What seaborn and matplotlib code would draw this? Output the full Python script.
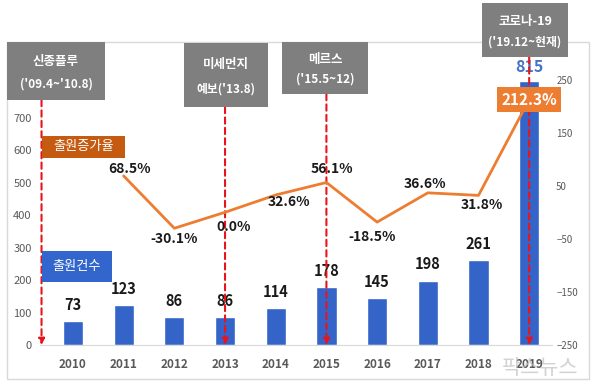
import numpy as np
import matplotlib
matplotlib.use("Agg")
import matplotlib.pyplot as plt
from matplotlib.patches import Rectangle
import seaborn as sns

# ── 데이터 ───────────────────────────────────────────────────────────────────
years = ["2010", "2011", "2012", "2013", "2014", "2015", "2016", "2017", "2018", "2019"]
counts = [73, 123, 86, 86, 114, 178, 145, 198, 261, 815]
growth_years = years[1:]
growth = [68.5, -30.1, 0.0, 32.6, 56.1, -18.5, 36.6, 31.8, 212.3]

event_names = ["신종플루", "미세먼지", "메르스", "코로나-19"]
event_periods = ["('09.4~'10.8)", "예보('13.8)", "('15.5~12)", "('19.12~현재)"]
event_pos = [-0.62, 3, 5, 9]

# ── 스타일 ───────────────────────────────────────────────────────────────────
sns.set_style("white")
plt.rcParams["font.family"] = ["Noto Sans CJK KR", "DejaVu Sans"]
BLUE = "#3464C8"
ORANGE = "#ED7D31"
BROWN = "#C55A11"
GRAY_BOX = "#7F7F7F"
TICK = "#595959"

W, H = 600, 391
fig = plt.figure(figsize=(6, 3.91), dpi=100)
ax = fig.add_axes([40 / W, 46 / H, 512 / W, 292 / H])

def fx(x): return x / W
def fy(y): return 1 - y / H

# 외곽 테두리
fig.add_artist(Rectangle((fx(7), fy(379)), fx(582), 337 / H, transform=fig.transFigure,
                         facecolor="none", edgecolor="#D9D9D9", lw=1, zorder=0))

# ── 막대: 출원건수 ───────────────────────────────────────────────────────────
sns.barplot(x=years, y=counts, color=BLUE, saturation=1, width=0.4, ax=ax, zorder=2)
ax.set_ylim(0, 900)
ax.set_xlim(-0.65, 9.45)
ax.set_yticks(range(0, 800, 100))
ax.set_xlabel("")
ax.set_ylabel("")
for s in ["top", "right", "left"]:
    ax.spines[s].set_visible(False)
ax.spines["bottom"].set_color("#D9D9D9")
ax.tick_params(axis="y", length=0, pad=6, labelsize=8, labelcolor=TICK)
ax.tick_params(axis="x", length=0, pad=9, labelsize=8.5, labelcolor=TICK)
for t in ax.get_xticklabels():
    t.set_fontweight("bold")

for i, v in enumerate(counts[:-1]):
    ax.annotate(f"{v}", (i, v), xytext=(0, 6), textcoords="offset points",
                ha="center", va="bottom", fontsize=10.5, fontweight="bold", color="#1a1a1a")
ax.annotate(f"{counts[-1]}", (9, counts[-1]), xytext=(0, 4), textcoords="offset points",
            ha="center", va="bottom", fontsize=11.5, fontweight="bold", color="#4472C4")

# ── 꺾은선: 출원증가율 ───────────────────────────────────────────────────────
ax2 = ax.twinx()
xpos = np.arange(1, len(years))
sns.lineplot(x=xpos, y=growth, color=ORANGE, lw=2, ax=ax2, zorder=3)
ax2.set_ylim(-250, 300)
ax2.set_yticks(range(-250, 251, 100))
for s in ["top", "right", "left", "bottom"]:
    ax2.spines[s].set_visible(False)
ax2.tick_params(axis="y", length=0, pad=3, labelsize=7, labelcolor=TICK)
ax2.set_ylabel("")

offsets = [(6, 7), (0, -11), (9, -15), (13, -7), (5, 13), (-5, -15), (-3, 9), (3, -10)]
for x, v, (dx, dy) in zip(xpos[:-1], growth[:-1], offsets):
    ax2.annotate(f"{v:.1f}%", (x, v), xytext=(dx * 0.72, dy * 0.72), textcoords="offset points",
                 ha="center", va="center", fontsize=10, fontweight="bold", color="#1a1a1a")
ax2.text(xpos[-1], growth[-1], f"{growth[-1]:.1f}%", ha="center", va="center",
         fontsize=11, fontweight="bold", color="white", zorder=6,
         bbox=dict(boxstyle="square,pad=0.28", facecolor=ORANGE, edgecolor="none"))

# ── 범례 상자 ────────────────────────────────────────────────────────────────
def label_box(x0, y0, x1, y1, color, text, size=9.5):
    fig.add_artist(Rectangle((fx(x0), fy(y1)), (x1 - x0) / W, (y1 - y0) / H,
                             transform=fig.transFigure, facecolor=color, edgecolor="none", zorder=5))
    fig.text(fx((x0 + x1) / 2), fy((y0 + y1) / 2), text, ha="center", va="center",
             color="white", fontsize=size, zorder=6)

label_box(42, 136, 125, 158, BROWN, "출원증가율")
label_box(42, 251, 112, 282, "#3366CC", "출원건수")

# ── 이벤트 상자 + 화살표 ─────────────────────────────────────────────────────
boxes = [(7, 42, 105, 100), (184, 43, 268, 107), (282, 42, 368, 94), (482, 3, 568, 57)]
for name, period, pos, (x0, y0, x1, y1) in zip(event_names, event_periods, event_pos, boxes):
    fig.add_artist(Rectangle((fx(x0), fy(y1)), (x1 - x0) / W, (y1 - y0) / H,
                             transform=fig.transFigure, facecolor=GRAY_BOX, edgecolor="none", zorder=5))
    h = y1 - y0
    fig.text(fx((x0 + x1) / 2), fy(y0 + h * 0.34), name, ha="center", va="center",
             color="white", fontsize=9, fontweight="bold", zorder=6)
    fig.text(fx((x0 + x1) / 2), fy(y0 + h * 0.72), period, ha="center", va="center",
             color="white", fontsize=8.5, fontweight="bold", zorder=6)
    ax.annotate("", xy=(pos, H - 345), xycoords=("data", "figure pixels"),
                xytext=(pos, H - y1), textcoords=("data", "figure pixels"),
                arrowprops=dict(arrowstyle="-|>", color="#E8141B", ls=(0, (3, 2)), lw=1.5,
                                mutation_scale=9, shrinkA=0, shrinkB=0),
                zorder=7, annotation_clip=False)

# 워터마크
fig.text(fx(540), fy(368), "팍스뉴스", ha="center", va="center", fontsize=15,
         color="#BFBFBF", alpha=0.7, zorder=8)

fig.savefig("out.png", dpi=100)
